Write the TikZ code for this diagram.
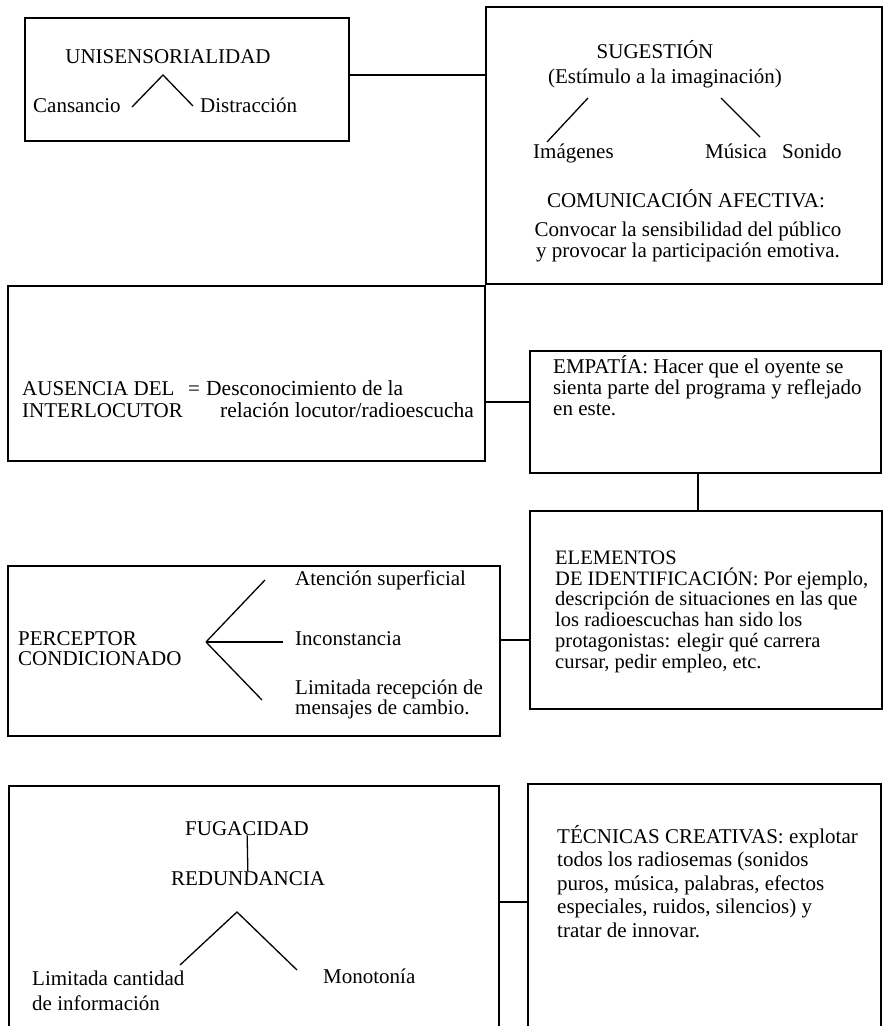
\documentclass[tikz,border=0pt]{standalone}
\usepackage{fontspec}
\setmainfont{Liberation Serif}
\usepackage{tikz}
\usetikzlibrary{calc}

\begin{document}
\begin{tikzpicture}[
  x=1pt, y=-1pt,
  box/.style={rectangle, draw, line width=1.6pt, anchor=north west, inner sep=0pt},
  txt/.style={font=\fontsize{21}{#1}\selectfont, inner sep=0pt, align=left, anchor=base west},
  txt/.default=21,
  ttl/.style={txt, anchor=base, align=center},
  link/.style={line width=1.6pt},
  fork/.style={line width=1.3pt}
]

  \useasboundingbox (0,0) rectangle (884,1026);
  \clip (0,0) rectangle (884,1026);
  \fill[white] (0,0) rectangle (884,1026);

  %--- BOXES ---
  \foreach \nm/\x/\y/\w/\h in {unisen/24/17/324/123, suges/485/6/396/277,
      ausen/7/285/477/175, empat/529/350/351/122, ident/529/510/352/198,
      percep/7/565/492/170, fugac/8/785/490/260, tecnic/527/783/353/262}{
    \node[box, minimum width=\w pt, minimum height=\h pt] (\nm) at (\x,\y) {};
  }

  %--- Unisensorialidad ---
  \node[ttl] (uni) at (168,63) {UNISENSORIALIDAD};
  \node[txt] (cans) at (33,112) {Cansancio};
  \node[txt] (distr) at (200,112) {Distracción};
  \coordinate (uL) at (132,107);
  \coordinate (uT) at (163,75);
  \coordinate (uR) at (193,106);
  \draw[fork] (uL) -- (uT) -- (uR);

  %--- Sugestion ---
  \node[ttl] (sug) at (655,58) {SUGESTIÓN};
  \node[ttl] (estim) at (665,83) {(Estímulo a la imaginación)};
  \node[txt] (imag) at (533,158) {Imágenes};
  \node[txt] (music) at (705,158) {Música};
  \node[txt] (sonid) at (782,158) {Sonido};
  \coordinate (sL1) at (588,98);
  \coordinate (sL2) at (547,142);
  \coordinate (sR1) at (721,98);
  \coordinate (sR2) at (760,137);
  \draw[fork] (sL1) -- (sL2);
  \draw[fork] (sR1) -- (sR2);
  \node[ttl] (comaf) at (686,207) {COMUNICACIÓN AFECTIVA:};
  % base anchor = last line
  \node[ttl=25] (convoc) at (688,257) {Convocar la sensibilidad del público\\y provocar la participación emotiva.};

  %--- Ausencia del interlocutor ---
  \node[txt=22] (ausn) at (22,417) {AUSENCIA DEL\\INTERLOCUTOR};
  \node[txt] (equal) at (188,395) {=};
  \node[txt, font=\fontsize{21.5}{22}\selectfont] (desc1) at (206,395) {Desconocimiento de la};
  \node[txt, font=\fontsize{21.5}{22}\selectfont] (desc2) at (220,417) {relación locutor/radioescucha};

  %--- Empatia / identificacion ---
  \node[txt] (empt) at (553,415) {EMPATÍA: Hacer que el oyente se\\sienta parte del programa y reflejado\\en este.};
  \node[txt, font=\fontsize{20.5}{20.7}\selectfont] (elem) at (555,668) {ELEMENTOS\\DE IDENTIFICACIÓN: Por ejemplo,\\descripción de situaciones en las que\\los radioescuchas han sido los\\protagonistas: elegir qué carrera\\cursar, pedir empleo, etc.};

  %--- Perceptor condicionado ---
  \node[txt=20] (perc) at (18,665) {PERCEPTOR\\CONDICIONADO};
  \node[txt] (atenc) at (295,585) {Atención superficial};
  \node[txt] (incon) at (295,645) {Inconstancia};
  \node[txt=20] (limrc) at (295,714) {Limitada recepción de\\mensajes de cambio.};
  \coordinate (pA) at (206,642);
  \foreach \px/\py in {265/580, 283/642, 262/700}{
    \draw[fork] (pA) -- (\px,\py);
  }

  %--- Fugacidad ---
  \node[ttl] (fug) at (247,835) {FUGACIDAD};
  \node[ttl] (redun) at (248,885) {REDUNDANCIA};
  \draw[fork] (fug) -- (redun);
  \coordinate (gT) at (237,912);
  \coordinate (gL) at (180,965);
  \coordinate (gR) at (297,970);
  \draw[fork] (gL) -- (gT) -- (gR);
  \node[txt=25] (limcant) at (32,1010) {Limitada cantidad\\de información};
  \node[txt] (monot) at (323,983) {Monotonía};

  %--- Tecnicas creativas ---
  \node[txt=23.5] (tecn) at (557,937) {TÉCNICAS CREATIVAS: explotar\\todos los radiosemas (sonidos\\puros, música, palabras, efectos\\especiales, ruidos, silencios) y\\tratar de innovar.};

  %--- Links ---
  \draw[link] (unisen.east |- 0,75) -- (suges.west |- 0,75);
  \draw[link] (ausen.east |- 0,402) -- (empat.west |- 0,402);
  \draw[link] (empat.south -| 698,0) -- (ident.north -| 698,0);
  \draw[link] (percep.east |- 0,640) -- (ident.west |- 0,640);
  \draw[link] (fugac.east |- 0,902) -- (tecnic.west |- 0,902);

\end{tikzpicture}
\end{document}
